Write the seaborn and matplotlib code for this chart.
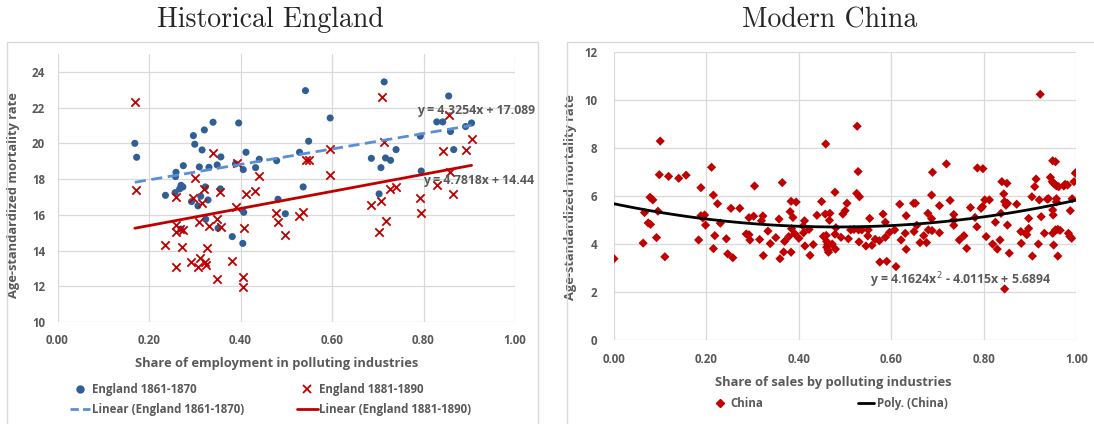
import numpy as np
import pandas as pd
import matplotlib
matplotlib.use("Agg")
import matplotlib.pyplot as plt
from matplotlib.patches import Rectangle
from matplotlib.lines import Line2D
import seaborn as sns

# ---- data ----
eng61_x = [0.169, 0.173, 0.297, 0.321, 0.340, 0.300, 0.316, 0.357, 0.396, 0.412, 0.441, 0.479,
           0.275, 0.310, 0.331, 0.349, 0.389, 0.406, 0.433, 0.259, 0.258, 0.236, 0.257, 0.270,
           0.274, 0.267, 0.323, 0.356, 0.313, 0.293, 0.307, 0.329, 0.324, 0.351, 0.382, 0.405,
           0.407, 0.482, 0.270, 0.542, 0.714, 0.855, 0.596, 0.549, 0.529, 0.686, 0.717, 0.728,
           0.740, 0.707, 0.793, 0.829, 0.842, 0.859, 0.892, 0.905, 0.866, 0.795, 0.537, 0.498,
           0.703]
eng61_y = [20.00, 19.22, 20.43, 20.75, 21.18, 19.95, 19.63, 19.24, 21.14, 19.50, 19.11, 19.03,
           18.75, 18.68, 18.66, 18.79, 18.85, 18.53, 18.64, 18.38, 18.14, 17.09, 17.24, 17.65,
           17.56, 17.45, 17.56, 17.45, 17.04, 16.74, 16.50, 16.83, 15.75, 15.25, 14.78, 14.40,
           16.14, 16.87, 15.20, 22.95, 23.44, 22.65, 21.42, 20.12, 19.50, 19.16, 19.18, 19.05,
           19.65, 18.64, 20.40, 21.20, 21.20, 20.66, 20.94, 21.14, 19.65, 18.45, 17.56, 16.06,
           17.17]

eng81_x = [0.169, 0.172, 0.340, 0.393, 0.300, 0.440, 0.321, 0.356, 0.412, 0.432, 0.260, 0.297,
           0.315, 0.391, 0.258, 0.258, 0.268, 0.275, 0.310, 0.331, 0.348, 0.357, 0.407, 0.234,
           0.273, 0.327, 0.260, 0.291, 0.308, 0.312, 0.322, 0.324, 0.382, 0.349, 0.405, 0.405,
           0.710, 0.856, 0.714, 0.905, 0.596, 0.843, 0.892, 0.544, 0.550, 0.596, 0.857, 0.829,
           0.727, 0.739, 0.792, 0.864, 0.477, 0.481, 0.497, 0.528, 0.537, 0.685, 0.707, 0.717,
           0.702, 0.794]
eng81_y = [22.33, 17.37, 19.46, 18.90, 18.06, 18.19, 17.45, 17.30, 17.19, 17.36, 16.98, 16.92,
           16.65, 16.42, 15.43, 15.06, 15.21, 15.15, 15.58, 15.39, 15.77, 15.34, 15.28, 14.29,
           14.22, 14.12, 13.06, 13.38, 13.06, 13.58, 13.38, 13.19, 13.42, 12.39, 12.52, 11.98,
           22.58, 21.57, 20.06, 20.26, 19.71, 19.57, 19.65, 19.05, 19.05, 18.21, 18.42, 17.65,
           17.45, 17.56, 16.96, 17.18, 16.10, 15.58, 14.85, 15.93, 16.14, 16.55, 16.79, 15.67,
           15.04, 16.08]

# linear trendlines (slope, intercept) as printed on the chart
fit61 = [4.3254, 17.089]
fit81 = [4.7818, 14.44]

china_x = [0.000, 0.100, 0.098, 0.118, 0.140, 0.156, 0.211, 0.188, 0.215, 0.224, 0.078, 0.084,
           0.066, 0.095, 0.074, 0.079, 0.063, 0.092, 0.110, 0.183, 0.188, 0.196, 0.192, 0.198,
           0.218, 0.215, 0.230, 0.243, 0.246, 0.257, 0.253, 0.272, 0.304, 0.364, 0.292, 0.302,
           0.319, 0.322, 0.286, 0.292, 0.294, 0.315, 0.333, 0.338, 0.323, 0.350, 0.357, 0.369,
           0.359, 0.367, 0.378, 0.383, 0.381, 0.387, 0.383, 0.394, 0.384, 0.391, 0.400, 0.409,
           0.412, 0.410, 0.422, 0.413, 0.424, 0.431, 0.439, 0.449, 0.458, 0.457, 0.467, 0.466,
           0.478, 0.495, 0.500, 0.480, 0.453, 0.459, 0.460, 0.462, 0.460, 0.463, 0.464, 0.472,
           0.478, 0.479, 0.491, 0.504,
           0.528, 0.525, 0.531, 0.507, 0.512, 0.519, 0.529, 0.536, 0.530, 0.545, 0.558, 0.549,
           0.550, 0.553, 0.565, 0.574, 0.582, 0.587, 0.587, 0.596, 0.607, 0.575, 0.590, 0.610,
           0.618, 0.621, 0.630, 0.632, 0.632, 0.648, 0.652, 0.649, 0.655, 0.662, 0.670, 0.680,
           0.688, 0.676, 0.679, 0.687, 0.687, 0.689, 0.704, 0.704, 0.719, 0.727, 0.735, 0.735,
           0.735, 0.747, 0.757, 0.763, 0.771, 0.781, 0.785, 0.786, 0.798, 0.794, 0.797, 0.802,
           0.812, 0.805, 0.819, 0.825, 0.829, 0.835, 0.839, 0.850, 0.843, 0.845, 0.848, 0.851,
           0.837, 0.851, 0.855, 0.871, 0.880, 0.881, 0.890, 0.897, 0.893, 0.897, 0.904, 0.910,
           0.913, 0.905, 0.918, 0.920, 0.924, 0.931, 0.937, 0.940, 0.944, 0.948, 0.951, 0.955,
           0.958, 0.962, 0.949, 0.955, 0.949, 0.950, 0.949, 0.951, 0.955, 0.960, 0.965, 0.957,
           0.957, 0.960, 0.973, 0.976, 0.981, 0.983, 0.986, 0.990, 0.987, 0.991, 0.995, 0.998,
           1.000, 0.922, 0.526, 0.845]
china_y = [3.40, 8.30, 6.90, 6.83, 6.75, 6.88, 7.21, 6.36, 6.05, 5.69, 5.96, 5.85,
           5.32, 5.38, 4.89, 4.83, 4.05, 4.28, 3.48, 4.18, 5.19, 5.22, 5.10, 4.80,
           4.36, 3.82, 4.88, 4.23, 3.60, 3.44, 5.50, 5.50, 6.43, 6.57, 5.11, 5.17,
           4.98, 5.18, 4.43, 4.40, 4.18, 4.20, 4.55, 4.03, 3.53, 4.28, 5.05, 4.12,
           3.40, 3.68, 4.32, 3.67, 5.36, 5.12, 5.79, 5.76, 4.65, 4.44, 4.25, 4.76,
           4.98, 4.48, 4.62, 3.93, 3.54, 3.99, 5.21, 5.78, 8.18, 5.26, 5.29, 5.00,
           6.17, 5.26, 5.40, 4.69, 4.33, 4.37, 4.12, 4.00, 3.88, 3.76, 3.67, 4.01,
           4.42, 3.80, 4.29, 5.71,
           7.03, 6.12, 5.98, 4.23, 4.60, 4.62, 4.60, 4.60, 4.10, 3.93, 3.96, 4.35,
           4.60, 5.08, 4.21, 4.15, 5.26, 4.92, 4.29, 4.50, 4.60, 3.26, 3.29, 3.07,
           5.67, 4.18, 4.46, 3.79, 5.19, 5.71, 5.71, 4.53, 4.79, 4.07, 4.36, 4.60,
           4.57, 4.07, 5.29, 5.07, 6.05, 7.00, 5.61, 4.48, 7.35, 5.83, 5.01, 4.79,
           5.24, 4.18, 4.36, 3.83, 5.53, 5.12, 4.73, 7.18, 7.15, 5.50, 5.57, 5.85,
           5.85, 4.32, 4.01, 4.92, 3.80, 4.18, 6.61, 6.54, 6.10, 5.78, 5.63, 5.71,
           5.29, 4.80, 3.63, 5.67, 4.53, 4.04, 4.46, 4.66, 4.40, 5.08, 5.98, 6.40,
           6.72, 3.51, 4.01, 5.85, 5.15, 4.46, 5.88, 5.90, 6.79, 6.61, 6.54, 6.47,
           6.43, 6.40, 7.48, 7.44, 5.43, 5.22, 4.46, 3.97, 4.60, 4.62, 4.58, 5.90,
           5.77, 3.51, 6.43, 6.50, 6.47, 4.46, 4.33, 4.25, 5.40, 5.90, 6.61, 6.96,
           7.00, 10.25, 8.92, 2.14]

# quadratic trendline (a, b, c) as printed on the chart
fit_china = [4.1624, -4.0115, 5.6894]

# ---- style ----
sns.set_style("white")
plt.rcParams["font.family"] = ["Open Sans", "DejaVu Sans"]
GRAY = "#595959"
GRID = "#d9d9d9"
BLUE = "#2f5f94"
BLUE_LINE = "#5b8fd3"
RED = "#c00000"
TICK_FS = 8.3
LAB_FS = 9.3
EQ_FS = 8.8

fig = plt.figure(figsize=(10.94, 4.24), dpi=100)

# chart area borders
fig.patches.append(Rectangle((7 / 1094, -0.01), 531 / 1094, 1.01 - 42 / 424, transform=fig.transFigure,
                             fill=False, edgecolor=GRID, lw=1))
fig.patches.append(Rectangle((567 / 1094, -0.01), 0.5, 1.01 - 42 / 424, transform=fig.transFigure,
                             fill=False, edgecolor=GRID, lw=1))

ax1 = fig.add_axes([57.5 / 1094, 1 - 322 / 424, 457.5 / 1094, 268 / 424])
ax2 = fig.add_axes([614 / 1094, 1 - 340.3 / 424, 462.3 / 1094, 288 / 424])


def style_axis(ax):
    for s in ax.spines.values():
        s.set_visible(False)
    ax.grid(True, color=GRID, lw=0.9)
    ax.set_axisbelow(True)
    ax.tick_params(length=0, labelsize=TICK_FS, labelcolor=GRAY, pad=9)
    for lab in ax.get_xticklabels() + ax.get_yticklabels():
        lab.set_fontweight("bold")


# ---- left: Historical England ----
df61 = pd.DataFrame({"x": eng61_x, "y": eng61_y})
df81 = pd.DataFrame({"x": eng81_x, "y": eng81_y})
sns.scatterplot(data=df61, x="x", y="y", ax=ax1, color=BLUE, s=26, edgecolor="none", zorder=3)
sns.scatterplot(data=df81, x="x", y="y", ax=ax1, color=RED, marker="x", s=36, linewidth=1.3, zorder=3)

xs61 = np.linspace(min(eng61_x), max(eng61_x), 50)
xs81 = np.linspace(min(eng81_x), max(eng81_x), 50)
sns.lineplot(x=xs61, y=fit61[0] * xs61 + fit61[1], ax=ax1, color=BLUE_LINE, lw=2, zorder=4)
ax1.lines[-1].set_dashes([4, 2])
sns.lineplot(x=xs81, y=fit81[0] * xs81 + fit81[1], ax=ax1, color=RED, lw=2, zorder=4)

ax1.set_xlim(0, 1)
ax1.set_ylim(10, 25)
ax1.set_xticks(np.arange(0, 1.01, 0.2))
ax1.set_xticklabels([f"{v:.2f}" for v in np.arange(0, 1.01, 0.2)])
ax1.set_yticks(np.arange(10, 25, 2))
style_axis(ax1)
ax1.set_xlabel("Share of employment in polluting industries", fontsize=LAB_FS, fontweight="bold", color=GRAY)
ax1.set_ylabel("Age-standardized mortality rate", fontsize=LAB_FS, fontweight="bold", color=GRAY)
ax1.xaxis.set_label_coords(0.48, -0.13)
ax1.yaxis.set_label_coords(-0.082, 0.474)

ax1.text(0.785, 21.81, f"y = {fit61[0]}x + {fit61[1]}", fontsize=EQ_FS, fontweight="bold", color=GRAY,
         ha="left", va="center", clip_on=False, zorder=5)
ax1.text(0.798, 17.9, f"y = {fit81[0]}x + {fit81[1]}", fontsize=EQ_FS, fontweight="bold", color=GRAY,
         ha="left", va="center", clip_on=False, zorder=5)

h1 = [Line2D([], [], color=BLUE, marker="o", ls="none", ms=5),
      Line2D([], [], color=BLUE_LINE, lw=2, dashes=[3, 1.5]),
      Line2D([], [], color=RED, marker="x", ls="none", ms=6, mew=1.3),
      Line2D([], [], color=RED, lw=2)]
l1 = ["England 1861-1870", "Linear (England 1861-1870)", "England 1881-1890", "Linear (England 1881-1890)"]
ax1.legend(h1, l1, ncol=2, loc="center", bbox_to_anchor=(0.465, -0.29), frameon=False,
           prop={"size": TICK_FS, "weight": "bold"}, labelcolor=GRAY, handlelength=1.8,
           handletextpad=0.1, columnspacing=4.6, labelspacing=0.6)

# ---- right: Modern China ----
dfc = pd.DataFrame({"x": china_x, "y": china_y})
sns.scatterplot(data=dfc, x="x", y="y", ax=ax2, color=RED, marker="D", s=22, edgecolor="none", zorder=3)
xc = np.linspace(0, 1, 100)
sns.lineplot(x=xc, y=fit_china[0] * xc ** 2 + fit_china[1] * xc + fit_china[2], ax=ax2,
             color="black", lw=2, zorder=4)

ax2.set_xlim(0, 1)
ax2.set_ylim(0, 12)
ax2.set_xticks(np.arange(0, 1.01, 0.2))
ax2.set_xticklabels([f"{v:.2f}" for v in np.arange(0, 1.01, 0.2)])
ax2.set_yticks(np.arange(0, 12.1, 2))
style_axis(ax2)
ax2.tick_params(axis="y", pad=12)
ax2.set_xlabel("Share of sales by polluting industries", fontsize=LAB_FS, fontweight="bold", color=GRAY)
ax2.set_ylabel("Age-standardized mortality rate", fontsize=LAB_FS, fontweight="bold", color=GRAY)
ax2.xaxis.set_label_coords(0.474, -0.125)
ax2.yaxis.set_label_coords(-0.08, 0.497)

ax2.text(0.749, 2.51, f"y = {fit_china[0]}x$^2$ - {abs(fit_china[1])}x + {fit_china[2]}",
         fontsize=EQ_FS, fontweight="bold", color=GRAY, ha="center", va="center", zorder=5)

h2 = [Line2D([], [], color=RED, marker="D", ls="none", ms=4),
      Line2D([], [], color="black", lw=2)]
ax2.legend(h2, ["China", "Poly. (China)"], ncol=2, loc="center", bbox_to_anchor=(0.467, -0.221),
           frameon=False, prop={"size": TICK_FS, "weight": "bold"}, labelcolor=GRAY, handlelength=1.4,
           handletextpad=0.2, columnspacing=8.2)

fig.text(270 / 1094, 1 - 20 / 424, "Historical England", family="cmr10", fontsize=20,
         ha="center", va="center")
fig.text(830 / 1094, 1 - 20 / 424, "Modern China", family="cmr10", fontsize=20,
         ha="center", va="center")

fig.savefig("out.png", dpi=100)
